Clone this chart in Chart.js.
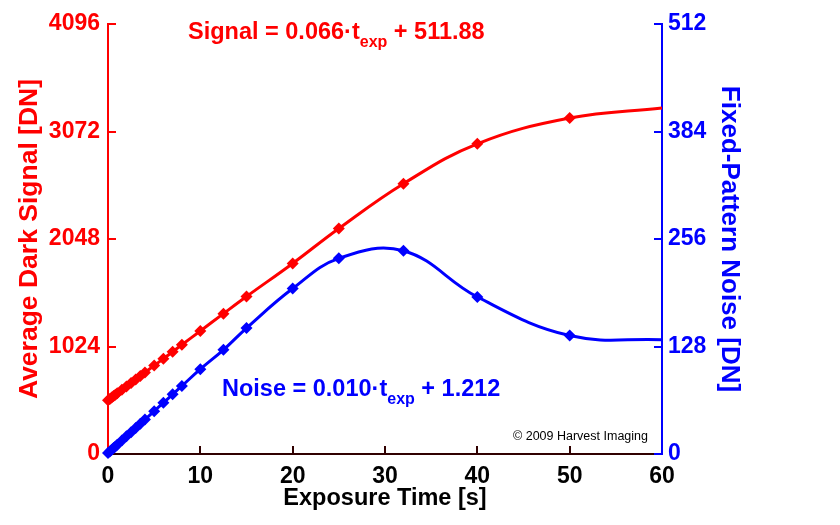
<!DOCTYPE html>
<html><head><meta charset="utf-8">
<script src="https://cdn.jsdelivr.net/npm/chart.js@4/dist/chart.umd.min.js"></script>
<style>html,body{margin:0;padding:0;background:#fff}#wrap{width:840px;height:525px;position:relative}</style>
</head><body><div id="wrap"><canvas id="c" width="840" height="525"></canvas></div>
<script>
const exposureTimes = [0, 0.2, 0.4, 0.6, 0.8, 1, 1.5, 2, 2.5, 3, 3.5, 4, 5, 6, 7, 8, 10, 12.5, 15, 20, 25, 32, 40, 50, 60];
const darkSignal = [512, 525, 538, 552, 565, 578, 611, 644, 677, 710, 743, 776, 842, 908, 974, 1040, 1172, 1337, 1500, 1815, 2148, 2575, 2955, 3200, 3296];
const fpNoise = [1.2, 3, 5, 7, 9, 11, 16, 21, 26, 31, 36, 41, 51, 61, 71, 81, 101, 124, 150, 197, 233, 242, 187, 141, 136];
const markerCount = 24; // last point (t = 60 s) is the curve end, no marker
const timeTicks = [0, 10, 20, 30, 40, 50, 60];
const signalTicks = [0, 1024, 2048, 3072, 4096];
const noiseTicks = [0, 128, 256, 384, 512];

const FONT = "'Liberation Sans', Arial, sans-serif";
const RED = '#ff0000', BLUE = '#0000ff', DARK = '#300000';

const toPts = (ys) => exposureTimes.map((t, i) => ({x: t, y: ys[i]}));
const radiusFn = (ctx) => ctx.dataIndex < markerCount ? 6 : 0;
const plain = (v) => String(v);

const innerTicks = {
  id: 'innerTicks',
  beforeDatasetsDraw(chart) {
    const ctx = chart.ctx;
    const len = 8;
    ctx.save();
    ctx.lineWidth = 2;
    const x = chart.scales.x, yl = chart.scales.y, yr = chart.scales.y2;
    ctx.strokeStyle = DARK;
    x.ticks.forEach((t, i) => {
      if (i === 0 || i === x.ticks.length - 1) return;
      const px = Math.round(x.getPixelForValue(t.value));
      ctx.beginPath(); ctx.moveTo(px, x.top); ctx.lineTo(px, x.top - len); ctx.stroke();
    });
    ctx.strokeStyle = RED;
    yl.ticks.forEach((t) => {
      const py = Math.round(yl.getPixelForValue(t.value));
      if (t.value === 0) return;
      ctx.beginPath(); ctx.moveTo(yl.right, py); ctx.lineTo(yl.right + len, py); ctx.stroke();
    });
    ctx.strokeStyle = BLUE;
    yr.ticks.forEach((t) => {
      const py = Math.round(yr.getPixelForValue(t.value));
      ctx.beginPath(); ctx.moveTo(yr.left, py); ctx.lineTo(yr.left - len, py); ctx.stroke();
    });
    ctx.restore();
  }
};

function drawEq(ctx, x, y, pre, sub, post, color, size) {
  ctx.fillStyle = color;
  ctx.textBaseline = 'alphabetic';
  ctx.textAlign = 'left';
  ctx.font = 'bold ' + size + 'px ' + FONT;
  ctx.fillText(pre, x, y);
  x += ctx.measureText(pre).width;
  ctx.font = 'bold ' + Math.round(size * 0.7) + 'px ' + FONT;
  ctx.fillText(sub, x, y + size * 0.35);
  x += ctx.measureText(sub).width;
  ctx.font = 'bold ' + size + 'px ' + FONT;
  ctx.fillText(post, x, y);
}

const labels = {
  id: 'labels',
  afterDraw(chart) {
    const ctx = chart.ctx;
    ctx.save();
    drawEq(ctx, 188, 39, 'Signal = 0.066\u00b7t', 'exp', ' + 511.88', RED, 23.5);
    drawEq(ctx, 222, 396, 'Noise = 0.010\u00b7t', 'exp', ' + 1.212', BLUE, 23.5);
    ctx.fillStyle = '#000';
    ctx.font = '12.5px ' + FONT;
    ctx.fillText('\u00a9 2009 Harvest Imaging', 513, 440);
    ctx.restore();
  }
};

new Chart(document.getElementById('c'), {
  type: 'line',
  data: {
    datasets: [
      {
        label: 'Average Dark Signal',
        data: toPts(darkSignal),
        yAxisID: 'y',
        borderColor: RED, backgroundColor: RED,
        borderWidth: 3, tension: 0.4,
        pointStyle: 'rectRot', pointRadius: radiusFn, pointHoverRadius: radiusFn,
        pointBorderWidth: 0, clip: false
      },
      {
        label: 'Fixed-Pattern Noise',
        data: toPts(fpNoise),
        yAxisID: 'y2',
        borderColor: BLUE, backgroundColor: BLUE,
        borderWidth: 3, tension: 0.4,
        pointStyle: 'rectRot', pointRadius: radiusFn, pointHoverRadius: radiusFn,
        pointBorderWidth: 0, clip: false
      }
    ]
  },
  options: {
    responsive: false,
    animation: false,
    devicePixelRatio: 1,
    layout: { padding: { left: 10, right: 91, top: 24, bottom: 8 } },
    plugins: { legend: { display: false }, tooltip: { enabled: false } },
    scales: {
      x: {
        type: 'linear', min: 0, max: 60,
        afterBuildTicks: (s) => { s.ticks = timeTicks.map(v => ({value: v})); },
        afterFit: (s) => { s.height = 63; },
        grid: { display: false, drawTicks: false },
        border: { display: true, color: DARK, width: 2 },
        ticks: { color: '#000', padding: 9, callback: plain, font: { family: FONT, size: 23, weight: 'bold' }, maxRotation: 0 },
        title: { display: true, text: 'Exposure Time [s]', color: '#000', padding: { top: 0, bottom: 4 }, font: { family: FONT, size: 23.5, weight: 'bold' } }
      },
      y: {
        type: 'linear', position: 'left', min: 0, max: 4096,
        afterBuildTicks: (s) => { s.ticks = signalTicks.map(v => ({value: v})); },
        afterFit: (s) => { s.width = 98; },
        grid: { display: false, drawTicks: false },
        border: { display: true, color: RED, width: 2 },
        ticks: { color: RED, padding: 8, callback: plain, font: { family: FONT, size: 23, weight: 'bold' } },
        title: { display: true, text: 'Average Dark Signal [DN]', color: RED, padding: { top: 4, bottom: 0 }, font: { family: FONT, size: 26.5, weight: 'bold' } }
      },
      y2: {
        type: 'linear', position: 'right', min: 0, max: 512,
        afterBuildTicks: (s) => { s.ticks = noiseTicks.map(v => ({value: v})); },
        afterFit: (s) => { s.width = 87; },
        grid: { display: false, drawTicks: false },
        border: { display: true, color: BLUE, width: 2 },
        ticks: { color: BLUE, padding: 6, callback: plain, font: { family: FONT, size: 23, weight: 'bold' } },
        title: { display: true, text: 'Fixed-Pattern Noise [DN]', color: BLUE, padding: { top: 4, bottom: 0 }, font: { family: FONT, size: 26, weight: 'bold' } }
      }
    }
  },
  plugins: [innerTicks, labels]
});
</script>
</body></html>
